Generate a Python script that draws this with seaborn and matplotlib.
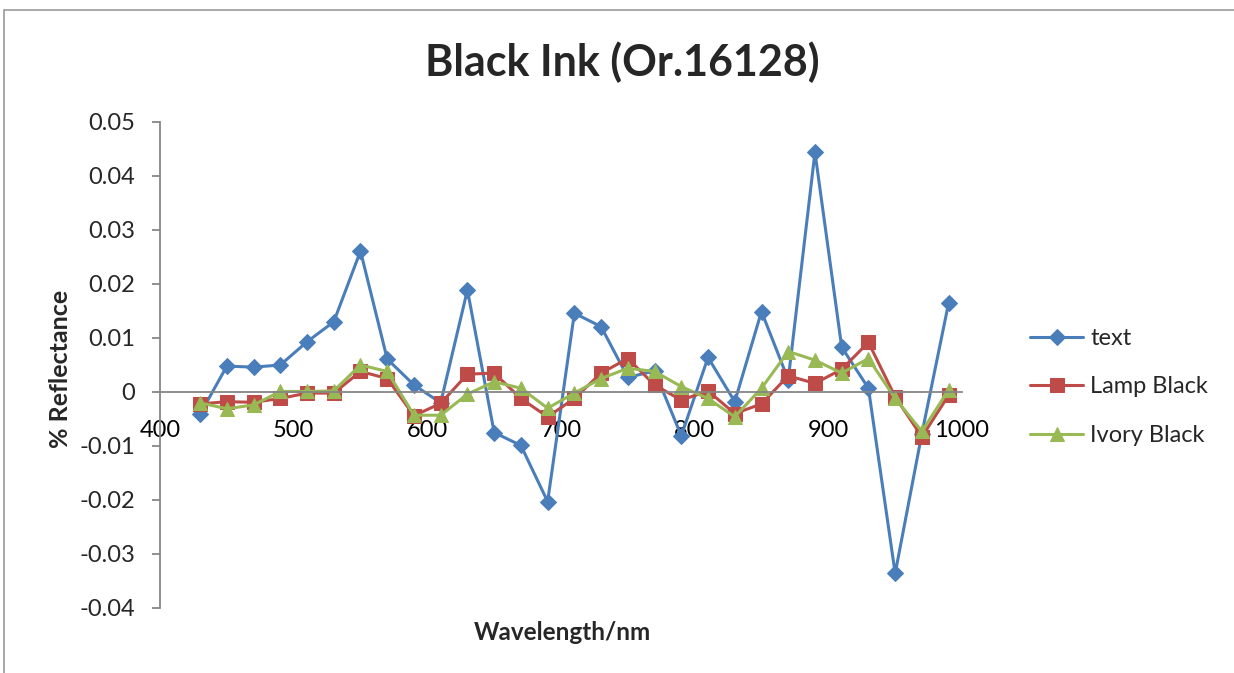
import numpy as np
import pandas as pd
import matplotlib
matplotlib.use("Agg")
import matplotlib.pyplot as plt
import seaborn as sns
from matplotlib.patches import Rectangle

wavelength = [430, 450, 470, 490, 510, 530, 550, 570, 590, 610,
              630, 650, 670, 690, 710, 730, 750, 770, 790, 810,
              830, 850, 870, 890, 910, 930, 950, 970, 990]

text_vals = [-0.0041, 0.0048, 0.0046, 0.0050, 0.0093, 0.0130, 0.0261, 0.0061, 0.0013, -0.0020,
             0.0189, -0.0075, -0.0099, -0.0203, 0.0146, 0.0121, 0.0027, 0.0039, -0.0081, 0.0064,
             -0.0018, 0.0149, 0.0023, 0.0444, 0.0083, 0.0007, -0.0336, -0.0077, 0.0165]

lamp_black = [-0.0022, -0.0018, -0.0019, -0.0012, -0.0002, -0.0002, 0.0038, 0.0025, -0.0044, -0.0021,
              0.0033, 0.0035, -0.0012, -0.0046, -0.0012, 0.0035, 0.0062, 0.0013, -0.0015, 0.0002,
              -0.0040, -0.0022, 0.0030, 0.0016, 0.0042, 0.0092, -0.0009, -0.0083, -0.0006]

ivory_black = [-0.0020, -0.0031, -0.0024, 0.0001, 0.0001, 0.0002, 0.0050, 0.0038, -0.0043, -0.0043,
               -0.0004, 0.0019, 0.0007, -0.0030, -0.0002, 0.0025, 0.0044, 0.0038, 0.0010, -0.0012,
               -0.0046, 0.0007, 0.0075, 0.0059, 0.0035, 0.0062, -0.0012, -0.0073, 0.0004]

series_names = ["text", "Lamp Black", "Ivory Black"]
x_ticks = [400, 500, 600, 700, 800, 900, 1000]
y_ticks = [-0.04, -0.03, -0.02, -0.01, 0, 0.01, 0.02, 0.03, 0.04, 0.05]
y_ticklabels = ["-0.04", "-0.03", "-0.02", "-0.01", "0", "0.01", "0.02", "0.03", "0.04", "0.05"]

sns.set_theme(style="white")
plt.rcParams['font.family'] = ['Lato', 'DejaVu Sans']

W, H = 1234, 673
fig = plt.figure(figsize=(W / 100, H / 100), dpi=100)
ax = fig.add_axes([160 / W, 1 - 608 / H, (962 - 160) / W, (608 - 122) / H])

colors = ["#4A7EBB", "#BE4B48", "#98B954"]
markers = ["D", "s", "^"]
msizes = [8, 9.5, 10.5]

for name, vals, c, m, ms in zip(series_names, [text_vals, lamp_black, ivory_black], colors, markers, msizes):
    df = pd.DataFrame({"wavelength": wavelength, "value": vals})
    sns.lineplot(data=df, x="wavelength", y="value", ax=ax, color=c, marker=m,
                 markersize=ms, markeredgecolor=c, linewidth=2.2, label=name, sort=False)

ax.set_xlim(400, 1000)
ax.set_ylim(-0.04, 0.05)
ax.set_xticks(x_ticks)
ax.set_xticklabels([str(t) for t in x_ticks])
ax.set_yticks(y_ticks)
ax.set_yticklabels(y_ticklabels)

for s in ["top", "right"]:
    ax.spines[s].set_visible(False)
ax.spines["bottom"].set_position(("data", 0))
ax.spines["bottom"].set_color("#868686")
ax.spines["bottom"].set_linewidth(1.3)
ax.spines["left"].set_color("#868686")
ax.spines["left"].set_linewidth(1.3)
ax.tick_params(axis="x", length=0, pad=20, labelsize=17, colors="black")
ax.tick_params(axis="y", length=6, width=1.3, color="#868686", pad=12, labelsize=17, left=True, direction="out")
ax.set_xlabel("")
ax.set_ylabel("")

fig.text(562 / W, 1 - 632 / H, "Wavelength/nm", ha="center", va="center", fontsize=17.5, fontweight="bold")
fig.text(60 / W, 1 - 369 / H, "% Reflectance", ha="center", va="center", rotation=90, fontsize=18, fontweight="bold")
fig.text(622 / W, 1 - 62 / H, "Black Ink (Or.16128)", ha="center", va="center", fontsize=31, fontweight="bold")

leg = ax.legend(loc="upper left", bbox_to_anchor=(1030 / W, 1 - 328 / H), bbox_transform=fig.transFigure,
                frameon=False, fontsize=17, handlelength=2.25, labelspacing=1.16, handletextpad=0.3,
                borderaxespad=0, borderpad=0)

fig.add_artist(Rectangle((4 / W, -0.1), 1.2, 1 - 10 / H + 0.1, transform=fig.transFigure,
                         fill=False, edgecolor="#9a9a9a", linewidth=1.2))

fig.savefig("out.png", dpi=100)
